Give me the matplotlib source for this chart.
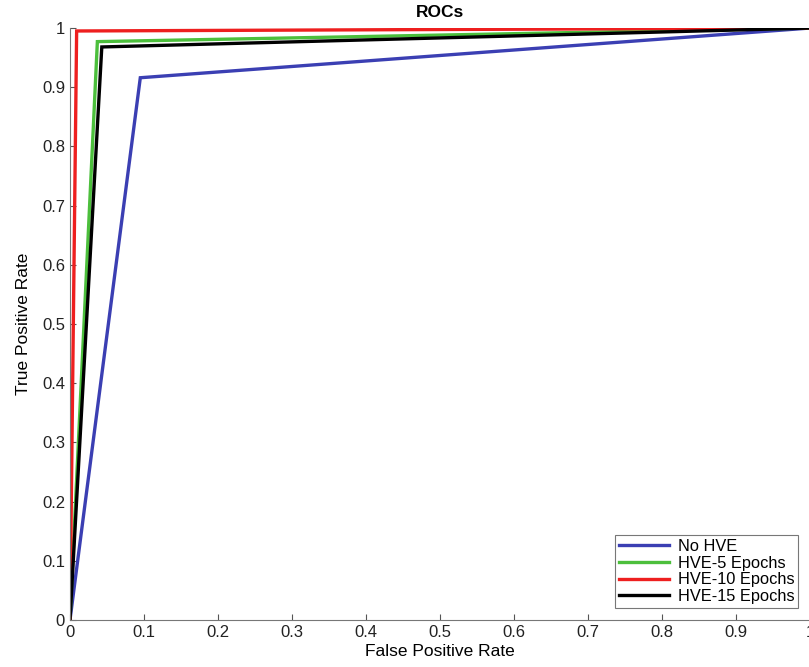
import matplotlib
matplotlib.use("Agg")
import matplotlib.pyplot as plt
import numpy as np

plt.rcParams['font.family'] = ['Liberation Sans', 'DejaVu Sans']

series_names = ["No HVE", "HVE-5 Epochs", "HVE-10 Epochs", "HVE-15 Epochs"]
series_colors = ["#3b3fb3", "#4cbf3c", "#ee1f1f", "#000000"]
fpr_no_hve = [0.0, 0.095, 1.0]
tpr_no_hve = [0.0, 0.916, 1.0]
fpr_hve5 = [0.0, 0.037, 1.0]
tpr_hve5 = [0.0, 0.977, 1.0]
fpr_hve10 = [0.0, 0.009, 1.0]
tpr_hve10 = [0.0, 0.995, 1.0]
fpr_hve15 = [0.0, 0.043, 1.0]
tpr_hve15 = [0.0, 0.968, 1.0]
ticks = [0, 0.1, 0.2, 0.3, 0.4, 0.5, 0.6, 0.7, 0.8, 0.9, 1]
tick_labels = ["0", "0.1", "0.2", "0.3", "0.4", "0.5", "0.6", "0.7", "0.8", "0.9", "1"]

fig = plt.figure(figsize=(8.09, 6.67), dpi=100)
ax = fig.add_axes([0.0865, 0.0705, 0.915, 0.8875])

data = [(fpr_no_hve, tpr_no_hve), (fpr_hve5, tpr_hve5), (fpr_hve10, tpr_hve10), (fpr_hve15, tpr_hve15)]
for (x, y), name, c in zip(data, series_names, series_colors):
    ax.plot(x, y, color=c, lw=2.4, label=name, solid_joinstyle='miter')

ax.set_xlim(0, 1)
ax.set_ylim(0, 1)
ax.set_xticks(ticks)
ax.set_xticklabels(tick_labels)
ax.set_yticks(ticks)
ax.set_yticklabels(tick_labels)
ax.tick_params(direction='in', length=4, width=0.8, colors='#555555', labelcolor='#222222', labelsize=12)
for s in ['top', 'right']:
    ax.spines[s].set_visible(False)
for s in ['left', 'bottom']:
    ax.spines[s].set_color('#777777')
    ax.spines[s].set_linewidth(0.8)

ax.set_title("ROCs", fontsize=12.5, fontweight='bold', pad=8)
ax.set_xlabel("False Positive Rate", fontsize=12.5, labelpad=3)
ax.set_ylabel("True Positive Rate", fontsize=12.5, labelpad=8)

leg = ax.legend(loc='lower right', bbox_to_anchor=(0.984, 0.02), fontsize=11.8,
                frameon=True, fancybox=False, edgecolor='#555555', handlelength=3.1,
                borderpad=0.25, labelspacing=0.1, handletextpad=0.5, borderaxespad=0.0)
leg.get_frame().set_linewidth(0.8)

fig.savefig("out.png", dpi=100)
